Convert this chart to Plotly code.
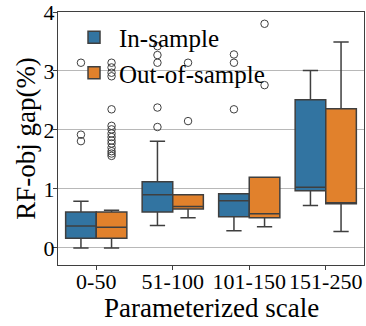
import plotly.graph_objects as go

categories = ["0-50", "51-100", "101-150", "151-250"]

# In-sample box statistics
in_lower = [0.0, 0.38, 0.29, 0.72]
in_q1 = [0.165, 0.61, 0.53, 0.97]
in_median = [0.37, 0.90, 0.80, 1.03]
in_q3 = [0.61, 1.12, 0.92, 2.51]
in_upper = [0.79, 1.81, 0.92, 3.01]
in_outliers = [
    [1.92, 1.81, 3.14],
    [2.05, 2.38, 3.14, 3.27, 3.42],
    [2.35, 3.14, 3.28],
    [],
]

# Out-of-sample box statistics
out_lower = [0.0, 0.51, 0.36, 0.28]
out_q1 = [0.165, 0.66, 0.51, 0.75]
out_median = [0.35, 0.70, 0.58, 0.76]
out_q3 = [0.61, 0.90, 1.20, 2.36]
out_upper = [0.64, 0.90, 1.20, 3.49]
out_outliers = [
    [1.56, 1.60, 1.64, 1.70, 1.77, 1.82, 1.88, 1.94, 2.01, 2.07, 2.35, 2.91, 2.97, 3.06, 3.14],
    [2.15, 3.14],
    [2.76, 3.80],
    [],
]

BLUE = "#3274a1"
ORANGE = "#e1812c"
EDGE = "#3f3f3f"
FONT = "Liberation Serif"

box_gap = 0.2
half = (1 - box_gap) / 4  # center offset of each box within a group

xs = list(range(len(categories)))
fig = go.Figure()

def add_box(name, color, lo, q1, med, q3, up, group):
    fig.add_trace(go.Box(
        name=name, x=xs, lowerfence=lo, q1=q1, median=med, q3=q3, upperfence=up,
        fillcolor=color, line=dict(color=EDGE, width=1.5), whiskerwidth=0.5,
        offsetgroup=group, boxpoints=False, showlegend=True,
    ))

add_box("In-sample", BLUE, in_lower, in_q1, in_median, in_q3, in_upper, "a")
add_box("Out-of-sample", ORANGE, out_lower, out_q1, out_median, out_q3, out_upper, "b")

def add_outliers(outs, offset):
    px, py = [], []
    for i, vals in enumerate(outs):
        for v in vals:
            px.append(i + offset)
            py.append(v)
    fig.add_trace(go.Scatter(
        x=px, y=py, mode="markers", showlegend=False, hoverinfo="skip",
        marker=dict(symbol="circle-open", size=7.5, color=EDGE, line=dict(width=1, color=EDGE)),
    ))

add_outliers(in_outliers, -half)
add_outliers(out_outliers, half)

fig.update_layout(
    width=366, height=326,
    margin=dict(l=58, r=2, t=12, b=61),
    paper_bgcolor="white", plot_bgcolor="white",
    boxmode="group", boxgap=box_gap, boxgroupgap=0,
    font=dict(family=FONT, color="black", size=22),
    legend=dict(
        x=0.036, y=0.99, xanchor="left", yanchor="top",
        bgcolor="rgba(0,0,0,0)", font=dict(family=FONT, size=25, color="black"),
        tracegroupgap=0, itemwidth=40,
    ),
    annotations=[dict(
        text="Parameterized scale", xref="paper", yref="paper",
        x=0.5, y=-0.168, xanchor="center", yanchor="middle", showarrow=False,
        font=dict(family=FONT, size=27, color="black"),
    )],
)
fig.update_xaxes(
    range=[-0.5, 3.5], tickmode="array", tickvals=xs, ticktext=categories,
    tickangle=0, ticklabelstandoff=-8,
    showline=True, linecolor=EDGE, linewidth=1.2, mirror=True,
    ticks="outside", ticklen=4, tickcolor=EDGE, showgrid=False, zeroline=False,
    automargin=False,
    tickfont=dict(family=FONT, size=22),
)
fig.update_yaxes(
    range=[-0.29, 4.0], tickvals=[0, 1, 2, 3, 4], ticklabelstandoff=-6,
    ticklabeloverflow="allow",
    showline=True, linecolor=EDGE, linewidth=1.2, mirror=True,
    ticks="outside", ticklen=4, tickcolor=EDGE,
    showgrid=True, gridcolor="#b8b8b8", gridwidth=1, zeroline=False,
    automargin=False,
    title=dict(text="RF-obj gap(%)", font=dict(family=FONT, size=27), standoff=0),
    tickfont=dict(family=FONT, size=22),
)

fig.write_html("out.html", config={"displayModeBar": False},
               post_script="document.body.style.margin='0';")
